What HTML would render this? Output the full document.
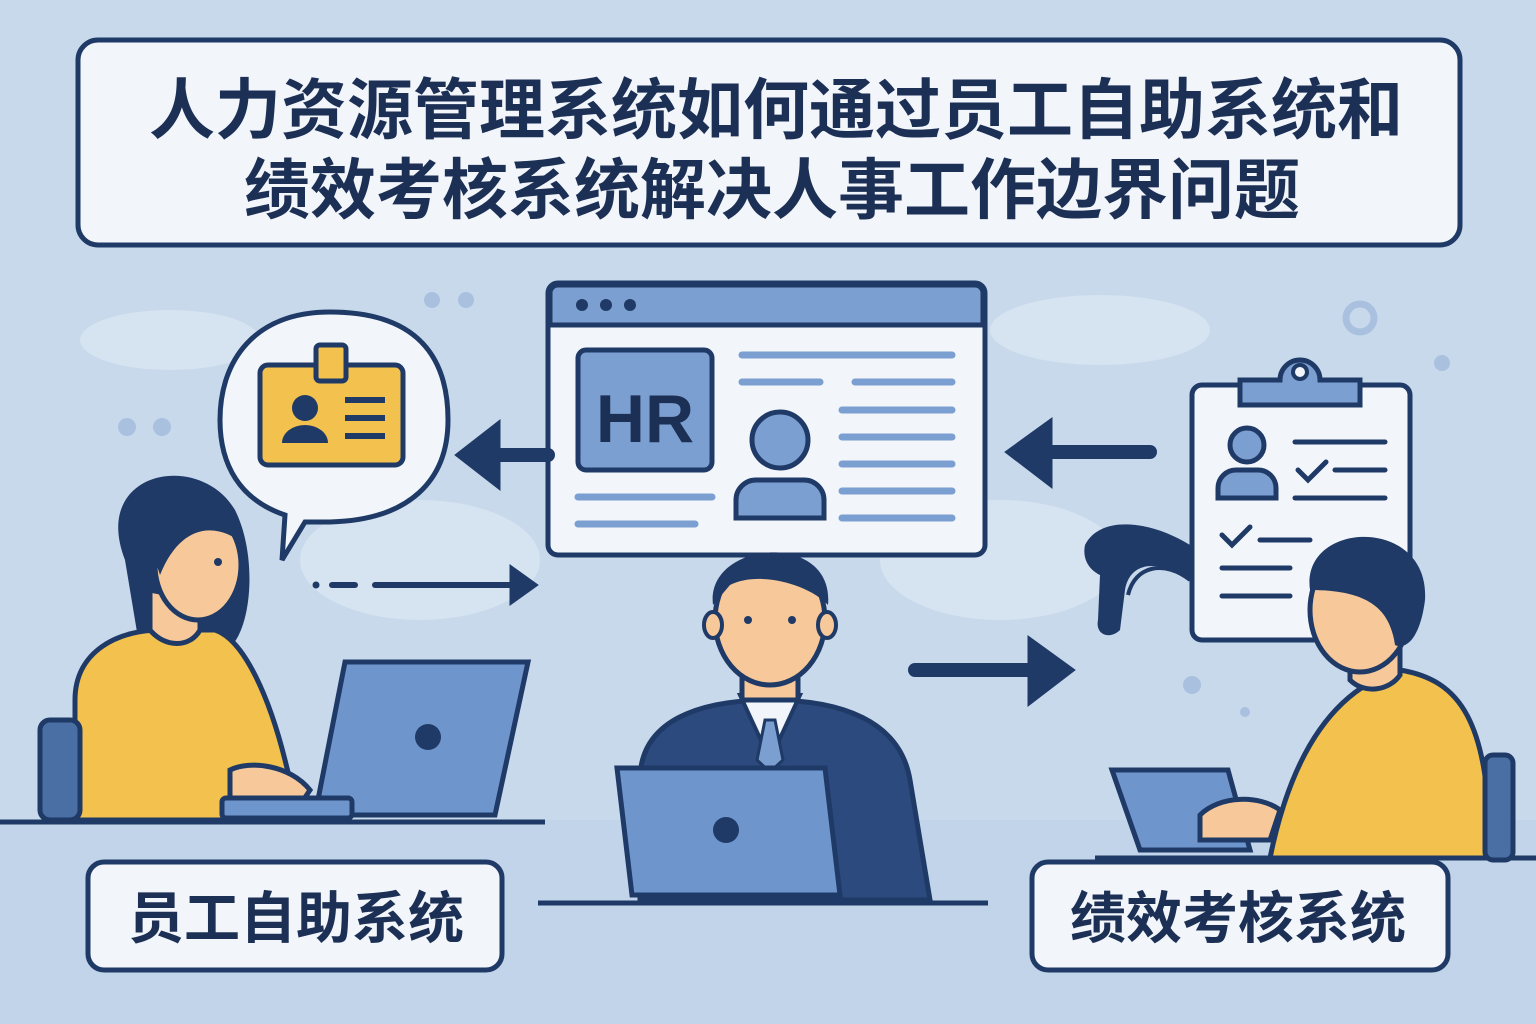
<!DOCTYPE html>
<html><head><meta charset="utf-8"><style>
html,body{margin:0;padding:0;background:#c8d9ec;}
svg{display:block}
text{font-family:"Liberation Sans","Noto Sans CJK SC",sans-serif;font-weight:700;}
</style></head><body>
<svg width="1536" height="1024" viewBox="0 0 1536 1024" xmlns="http://www.w3.org/2000/svg">
<rect width="1536" height="1024" fill="#c8d9ec"/>
<g fill="#d6e3f1">
<ellipse cx="170" cy="340" rx="90" ry="30"/><ellipse cx="1100" cy="330" rx="110" ry="35"/>
<ellipse cx="420" cy="560" rx="120" ry="60"/><ellipse cx="1000" cy="560" rx="120" ry="60"/>
</g>
<rect x="0" y="820" width="1536" height="204" fill="#c2d4e9"/>
<g fill="#a9c1df"><circle cx="432" cy="300" r="8"/><circle cx="466" cy="300" r="8"/><circle cx="127" cy="427" r="9"/><circle cx="162" cy="427" r="9"/><circle cx="1442" cy="363" r="8"/><circle cx="1192" cy="685" r="9"/><circle cx="1245" cy="712" r="5"/></g>
<circle cx="1360" cy="318" r="14" fill="none" stroke="#a9c1df" stroke-width="7"/>
<rect x="78" y="40" width="1382" height="205" rx="20" fill="#f2f6fb" stroke="#1f3a66" stroke-width="5"/>
<text x="776" y="133" font-size="66" fill="#1c2f55" text-anchor="middle">人力资源管理系统如何通过员工自助系统和</text>
<text x="772" y="213" font-size="66" fill="#1c2f55" text-anchor="middle">绩效考核系统解决人事工作边界问题</text>
<rect x="548" y="283" width="437" height="272" rx="10" fill="#f2f6fb" stroke="#1f3a66" stroke-width="5"/>
<path d="M550 325 V293 a8 8 0 0 1 8 -8 H975 a8 8 0 0 1 8 8 V325 Z" fill="#7b9fd0" stroke="#1f3a66" stroke-width="5"/>
<g fill="#1f3a66"><circle cx="582" cy="305" r="6"/><circle cx="606" cy="305" r="6"/><circle cx="630" cy="305" r="6"/></g>
<rect x="578" y="350" width="134" height="120" rx="8" fill="#7b9fd0" stroke="#1f3a66" stroke-width="5"/>
<text x="645" y="442" font-size="68" fill="#1c2f55" text-anchor="middle">HR</text>
<g stroke="#7b9fd0" stroke-width="7" stroke-linecap="round">
<line x1="742" y1="355" x2="952" y2="355"/><line x1="742" y1="382" x2="820" y2="382"/><line x1="855" y1="382" x2="952" y2="382"/>
<line x1="842" y1="410" x2="952" y2="410"/><line x1="842" y1="437" x2="952" y2="437"/><line x1="842" y1="464" x2="952" y2="464"/>
<line x1="842" y1="491" x2="952" y2="491"/><line x1="842" y1="518" x2="952" y2="518"/>
<line x1="578" y1="497" x2="712" y2="497"/><line x1="578" y1="524" x2="695" y2="524"/></g>
<circle cx="780" cy="440" r="28" fill="#7b9fd0" stroke="#1f3a66" stroke-width="5"/>
<path d="M736 518 v-18 a20 20 0 0 1 20 -20 h48 a20 20 0 0 1 20 20 v18 z" fill="#7b9fd0" stroke="#1f3a66" stroke-width="5"/>
<g fill="#1f3a66" stroke="#1f3a66" stroke-linecap="round">
<line x1="548" y1="455" x2="490" y2="455" stroke-width="14"/><path d="M455 455 L500 420 L500 490 Z"/>
<line x1="1150" y1="452" x2="1040" y2="452" stroke-width="14"/><path d="M1005 452 L1052 418 L1052 488 Z"/>
<line x1="915" y1="670" x2="1030" y2="670" stroke-width="14"/><path d="M1075 670 L1028 636 L1028 706 Z"/>
<line x1="375" y1="585" x2="515" y2="585" stroke-width="6"/><path d="M538 585 L510 565 L510 605 Z"/>
<line x1="332" y1="585" x2="355" y2="585" stroke-width="6"/><circle cx="316" cy="585" r="3"/>
</g>
<!-- dark scribble near clipboard -->
<path d="M1085 545 C1100 515 1150 520 1190 545 L1190 580 C1160 560 1130 560 1125 590 L1120 630 C1110 640 1095 635 1098 620 L1100 575 C1090 570 1082 560 1085 545 Z" fill="#1f3a66"/>
<path d="M1190 580 C1165 560 1135 565 1128 595" fill="none" stroke="#1f3a66" stroke-width="4"/>
<path d="M330 312 C420 312 448 360 448 420 C448 480 410 520 330 522 L305 522 L282 560 L285 515 C240 500 220 465 220 420 C220 360 255 312 330 312 Z" fill="#f2f6fb" stroke="#1f3a66" stroke-width="5"/>
<rect x="260" y="365" width="143" height="100" rx="8" fill="#f2c14e" stroke="#1f3a66" stroke-width="5"/>
<rect x="316" y="345" width="30" height="36" rx="4" fill="#f2c14e" stroke="#1f3a66" stroke-width="5"/>
<circle cx="305" cy="408" r="13" fill="#1f3a66"/><path d="M282 443 a23 18 0 0 1 46 0 z" fill="#1f3a66"/>
<g stroke="#1f3a66" stroke-width="6"><line x1="345" y1="400" x2="385" y2="400"/><line x1="345" y1="418" x2="385" y2="418"/><line x1="345" y1="436" x2="385" y2="436"/></g>
<rect x="1192" y="385" width="218" height="255" rx="10" fill="#f2f6fb" stroke="#1f3a66" stroke-width="5"/>
<path d="M1240 405 V380 H1280 a20 20 0 0 1 40 0 H1360 V405 Z" fill="#7b9fd0" stroke="#1f3a66" stroke-width="5"/>
<circle cx="1300" cy="372" r="7" fill="#f2f6fb" stroke="#1f3a66" stroke-width="4"/>
<circle cx="1247" cy="445" r="17" fill="#7b9fd0" stroke="#1f3a66" stroke-width="5"/>
<path d="M1218 498 v-10 a18 18 0 0 1 18 -18 h22 a18 18 0 0 1 18 18 v10 z" fill="#7b9fd0" stroke="#1f3a66" stroke-width="5"/>
<g stroke="#1f3a66" stroke-width="5" fill="none" stroke-linecap="round">
<line x1="1295" y1="442" x2="1385" y2="442"/><path d="M1298 470 l10 10 l18 -18"/><line x1="1335" y1="470" x2="1385" y2="470"/><line x1="1295" y1="498" x2="1385" y2="498"/>
<path d="M1222 535 l10 10 l18 -18"/><line x1="1260" y1="540" x2="1310" y2="540"/><line x1="1222" y1="568" x2="1290" y2="568"/><line x1="1222" y1="596" x2="1290" y2="596"/></g>
<g stroke="#1f3a66" stroke-width="5"><line x1="0" y1="822" x2="545" y2="822"/><line x1="538" y1="903" x2="988" y2="903"/><line x1="1095" y1="858" x2="1536" y2="858"/></g>
<path d="M125 560 C90 470 200 450 235 510 C260 560 250 640 225 650 L140 650 Z" fill="#1f3a66"/>
<path d="M75 820 V700 C75 650 120 630 160 630 H215 C245 640 270 700 285 760 L300 820 Z" fill="#f2c14e" stroke="#1f3a66" stroke-width="5"/>
<rect x="40" y="720" width="40" height="100" rx="10" fill="#4a6fa5" stroke="#1f3a66" stroke-width="5"/>
<path d="M150 590 v40 c15 18 40 18 50 0 v-30 z" fill="#f7c99a" stroke="#1f3a66" stroke-width="5"/>
<ellipse cx="198" cy="565" rx="43" ry="55" fill="#f7c99a" stroke="#1f3a66" stroke-width="5"/>
<path d="M150 545 C160 490 240 490 245 545 C215 520 180 525 160 575 Z" fill="#1f3a66"/>
<circle cx="218" cy="562" r="4" fill="#1f3a66"/>
<path d="M230 770 c20 -10 60 -5 80 20 l-10 15 h-70 z" fill="#f7c99a" stroke="#1f3a66" stroke-width="5"/>
<path d="M345 662 H528 L495 815 H315 Z" fill="#6f95cd" stroke="#1f3a66" stroke-width="5"/>
<circle cx="428" cy="737" r="13" fill="#1f3a66"/>
<rect x="222" y="798" width="130" height="20" rx="4" fill="#6f95cd" stroke="#1f3a66" stroke-width="5"/>
<path d="M640 900 V780 C640 720 700 700 770 700 C840 700 900 720 910 780 L930 900 Z" fill="#2c4a7e" stroke="#1f3a66" stroke-width="5"/>
<path d="M740 695 L770 760 L800 695 Z" fill="#f2f6fb" stroke="#1f3a66" stroke-width="4"/>
<path d="M765 720 l10 0 l8 40 l-13 12 l-13 -12 z" fill="#7b9fd0" stroke="#1f3a66" stroke-width="3"/>
<rect x="742" y="660" width="56" height="40" fill="#f7c99a" stroke="#1f3a66" stroke-width="5"/>
<ellipse cx="770" cy="620" rx="55" ry="65" fill="#f7c99a" stroke="#1f3a66" stroke-width="5"/>
<path d="M713 605 C705 540 835 530 828 605 C810 585 760 570 730 585 Z" fill="#1f3a66"/>
<ellipse cx="713" cy="625" rx="9" ry="13" fill="#f7c99a" stroke="#1f3a66" stroke-width="4"/><ellipse cx="827" cy="625" rx="9" ry="13" fill="#f7c99a" stroke="#1f3a66" stroke-width="4"/>
<circle cx="748" cy="620" r="4" fill="#1f3a66"/><circle cx="792" cy="620" r="4" fill="#1f3a66"/>
<path d="M617 768 H825 L840 895 H632 Z" fill="#6f95cd" stroke="#1f3a66" stroke-width="5"/>
<circle cx="726" cy="830" r="13" fill="#1f3a66"/>
<path d="M1270 858 C1290 760 1330 690 1400 670 C1460 680 1490 720 1490 858 Z" fill="#f2c14e" stroke="#1f3a66" stroke-width="5"/>
<rect x="1485" y="755" width="28" height="105" rx="8" fill="#4a6fa5" stroke="#1f3a66" stroke-width="5"/>
<path d="M1350 640 v40 c15 15 40 10 50 -5 v-40 z" fill="#f7c99a" stroke="#1f3a66" stroke-width="5"/>
<ellipse cx="1360" cy="610" rx="50" ry="62" fill="#f7c99a" stroke="#1f3a66" stroke-width="5"/>
<path d="M1310 590 C1300 520 1430 515 1425 600 C1420 640 1405 650 1395 645 C1390 610 1370 590 1310 590 Z" fill="#1f3a66"/>
<path d="M1112 770 H1228 L1250 850 H1140 Z" fill="#6f95cd" stroke="#1f3a66" stroke-width="5"/>
<path d="M1200 815 c20 -20 60 -20 80 -5 l-10 30 h-70 z" fill="#f7c99a" stroke="#1f3a66" stroke-width="5"/>
<rect x="88" y="862" width="414" height="108" rx="16" fill="#f2f6fb" stroke="#1f3a66" stroke-width="5"/>
<text x="296" y="938" font-size="56" fill="#1c2f55" text-anchor="middle">员工自助系统</text>
<rect x="1032" y="862" width="416" height="108" rx="16" fill="#f2f6fb" stroke="#1f3a66" stroke-width="5"/>
<text x="1238" y="938" font-size="56" fill="#1c2f55" text-anchor="middle">绩效考核系统</text>
</svg>
</body></html>
